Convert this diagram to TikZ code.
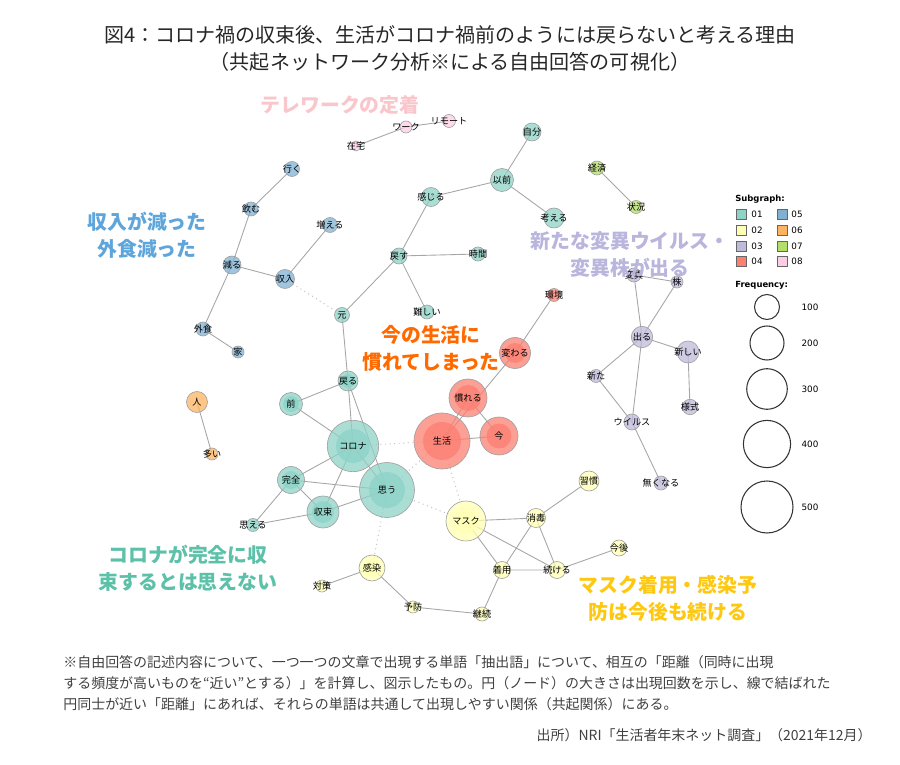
\documentclass[tikz,border=0pt]{standalone}
\usepackage{fontspec}
\setmainfont{Noto Sans CJK JP}
\newfontfamily\legfont{DejaVu Sans}
\usetikzlibrary{backgrounds}
\definecolor{c01}{HTML}{8DD3C7}
\definecolor{c02}{HTML}{FFFFB3}
\definecolor{c03}{HTML}{BEBADA}
\definecolor{c04}{HTML}{FB8072}
\definecolor{c05}{HTML}{80B1D3}
\definecolor{c06}{HTML}{FDB462}
\definecolor{c07}{HTML}{B3DE69}
\definecolor{c08}{HTML}{FCCDE5}
\definecolor{apink}{HTML}{F9C6CC}
\definecolor{ablue}{HTML}{5DA5DA}
\definecolor{apurple}{HTML}{B9B5DC}
\definecolor{aorange}{HTML}{FF6A00}
\definecolor{ateal}{HTML}{5DC1A9}
\definecolor{ayellow}{HTML}{FFC810}
\tikzset{
  word/.style={circle, draw=gray!75, line width=0.35pt, fill opacity=0.75, inner sep=0pt},
  sz/.style={minimum size=#1*0.4mm},
  core/.style 2 args={path picture={\fill[#1, fill opacity=0.8] (path picture bounding box.center) circle ({#2*0.2mm});}},
  every label/.style={font=\fontsize{5.2}{5.6}\selectfont, text opacity=1, fill opacity=1, inner sep=0pt},
  edge/.style={draw=gray!70, line width=0.5pt},
  weak/.style={draw=gray!45, line width=0.6pt, dotted},
  ann/.style={font=\fontsize{11.3}{15.3}\selectfont\bfseries, align=center},
  note/.style={font=\fontsize{7.95}{11.9}\selectfont, align=left, text=black!75, inner sep=0pt},
  sq/.style={draw=black!60, line width=0.4pt, minimum size=2mm, inner sep=0pt},
  legtxt/.style={font=\legfont\fontsize{5}{6}\selectfont, inner sep=0pt},
  fc/.style={circle, draw=black!80, line width=0.6pt, inner sep=0pt}
}
\begin{document}
\begin{tikzpicture}[x=0.2mm, y=-0.2mm]
\useasboundingbox (0,0) rectangle (900,765);
\node[font=\fontsize{11.4}{15.3}\selectfont, align=center, text=black!85] (title) at (450,48.5) {図4：コロナ禍の収束後、生活がコロナ禍前のようには戻らないと考える理由\\（共起ネットワーク分析※による自由回答の可視化）};

\node[word, sz=5, fill=c08, label=center:在宅] (zaitaku) at (356,146) {};
\node[word, sz=6, fill=c08, label=center:ワーク] (waaku) at (406,127) {};
\node[word, sz=6.5, fill=c08, label=center:リモート] (rimoto) at (449,121) {};

\node[word, sz=7.5, fill=c05, label=center:行く] (iku) at (292,169) {};
\node[word, sz=7, fill=c05, label=center:飲む] (nomu) at (251,209) {};
\node[word, sz=7.5, fill=c05, label=center:増える] (fueru) at (330,225) {};
\node[word, sz=9, fill=c05, label=center:減る] (heru) at (232,265) {};
\node[word, sz=9.5, fill=c05, label=center:収入] (shunyu) at (285,279) {};
\node[word, sz=7, fill=c05, label=center:外食] (gaishoku) at (203,329) {};
\node[word, sz=6, fill=c05, label=center:家] (ie) at (238,352) {};

\node[word, sz=9, fill=c01, label=center:自分] (jibun) at (532,132) {};
\node[word, sz=11.5, fill=c01, label=center:以前] (izen) at (502,180) {};
\node[word, sz=9.5, fill=c01, label=center:感じる] (kanjiru) at (431,197) {};
\node[word, sz=10, fill=c01, label=center:考える] (kangaeru) at (554,218) {};
\node[word, sz=8, fill=c01, label=center:戻す] (modosu) at (399,256) {};
\node[word, sz=7, fill=c01, label=center:時間] (jikan) at (478,254) {};
\node[word, sz=7, fill=c01, label=center:難しい] (muzukashii) at (427,312) {};
\node[word, sz=7.5, fill=c01, label=center:元] (moto) at (342,315) {};
\node[word, sz=10, fill=c01, core={c01}{7}, label=center:戻る] (modoru) at (348,381) {};
\node[word, sz=11.5, fill=c01, core={c01}{8}, label=center:前] (mae) at (291,404) {};
\node[word, sz=25.7, fill=c01, core={c01}{17}, label=center:コロナ] (korona) at (353,446) {};
\node[word, sz=13.5, fill=c01, core={c01}{9}, label=center:完全] (kanzen) at (291,480) {};
\node[word, sz=16, fill=c01, core={c01}{11}, label=center:収束] (shusoku) at (323,512) {};
\node[word, sz=27.5, fill=c01, core={c01}{18}, label=center:思う] (omou) at (387,490) {};
\node[word, sz=6.5, fill=c01, label=center:思える] (omoeru) at (253,525) {};

\node[word, sz=6.5, fill=c04, label=center:環境] (kankyo) at (554,295) {};
\node[word, sz=15.5, fill=c04, core={c04}{10}, label=center:変わる] (kawaru) at (515,353) {};
\node[word, sz=19, fill=c04, core={c04}{13}, label=center:慣れる] (nareru) at (468,398) {};
\node[word, sz=28, fill=c04, core={c04}{19}, label=center:生活] (seikatsu) at (442,441) {};
\node[word, sz=19, fill=c04, core={c04}{12.5}, label=center:今] (ima) at (499,436) {};

\node[word, sz=10.5, fill=c06, label=center:人] (hito) at (197,402) {};
\node[word, sz=6, fill=c06, label=center:多い] (ooi) at (212,454) {};

\node[word, sz=7, fill=c07, label=center:経済] (keizai) at (597,168) {};
\node[word, sz=6.5, fill=c07, label=center:状況] (jokyo) at (636,207) {};

\node[word, sz=7, fill=c03, label=center:変異] (heni) at (634,275) {};
\node[word, sz=6, fill=c03, label=center:株] (kabu) at (677,282) {};
\node[word, sz=10.7, fill=c03, label=center:出る] (deru) at (642,337) {};
\node[word, sz=11, fill=c03, label=center:新しい] (atarashii) at (688,352) {};
\node[word, sz=6.5, fill=c03, label=center:新た] (aratana) at (596,376) {};
\node[word, sz=7.7, fill=c03, label=center:様式] (yoshiki) at (690,407) {};
\node[word, sz=8, fill=c03, label=center:ウイルス] (virus) at (632,422) {};
\node[word, sz=7, fill=c03, label=center:無くなる] (nakunaru) at (661,483) {};

\node[word, sz=10, fill=c02, label=center:習慣] (shukan) at (589,481) {};
\node[word, sz=9.5, fill=c02, label=center:消毒] (shodoku) at (536,518) {};
\node[word, sz=20, fill=c02, core={c02}{13}, label=center:マスク] (mask) at (466,521) {};
\node[word, sz=8, fill=c02, label=center:今後] (kongo) at (619,548) {};
\node[word, sz=8.5, fill=c02, label=center:着用] (chakuyo) at (502,570) {};
\node[word, sz=8.5, fill=c02, label=center:続ける] (tsuzukeru) at (557,570) {};
\node[word, sz=13, fill=c02, core={c02}{8.5}, label=center:感染] (kansen) at (372,568) {};
\node[word, sz=6, fill=c02, label=center:対策] (taisaku) at (322,586) {};
\node[word, sz=6, fill=c02, label=center:予防] (yobo) at (413,607) {};
\node[word, sz=7, fill=c02, label=center:継続] (keizoku) at (482,614) {};

\begin{pgfonlayer}{background}
\draw[edge] (zaitaku.center) -- (waaku.center) -- (rimoto.center);
\draw[edge] (iku.center) -- (nomu.center) -- (heru.center) -- (shunyu.center) -- (fueru.center);
\draw[edge] (heru.center) -- (gaishoku.center) -- (ie.center);
\draw[weak] (shunyu.center) -- (moto.center);
\draw[edge] (jibun.center) -- (izen.center) -- (kanjiru.center) -- (modosu.center) -- (jikan.center);
\draw[edge] (izen.center) -- (kangaeru.center);
\draw[edge] (modosu.center) -- (muzukashii.center);
\draw[edge] (modosu.center) -- (moto.center) -- (modoru.center) -- (mae.center) -- (korona.center);
\draw[edge] (modoru.center) -- (korona.center);
\draw[edge] (modoru.center) -- (omou.center);
\draw[edge] (korona.center) -- (kanzen.center) -- (omou.center);
\draw[edge] (korona.center) -- (shusoku.center) -- (omou.center) -- (korona.center);
\draw[edge] (kanzen.center) -- (shusoku.center) -- (omoeru.center) -- (kanzen.center);
\draw[weak] (korona.center) -- (seikatsu.center) -- (omou.center) -- (mask.center) -- (seikatsu.center);
\draw[weak] (omou.center) -- (kansen.center);
\draw[edge] (kankyo.center) -- (kawaru.center) -- (seikatsu.center) -- (nareru.center) -- (ima.center) -- (seikatsu.center);
\draw[edge] (hito.center) -- (ooi.center);
\draw[edge] (keizai.center) -- (jokyo.center);
\draw[edge] (heni.center) -- (kabu.center) -- (deru.center) -- (heni.center);
\draw[edge] (aratana.center) -- (deru.center) -- (atarashii.center) -- (yoshiki.center);
\draw[edge] (deru.center) -- (virus.center) -- (aratana.center);
\draw[edge] (virus.center) -- (nakunaru.center);
\draw[edge] (shukan.center) -- (shodoku.center) -- (mask.center) -- (chakuyo.center) -- (shodoku.center) -- (tsuzukeru.center) -- (mask.center);
\draw[edge] (chakuyo.center) -- (tsuzukeru.center) -- (kongo.center);
\draw[edge] (chakuyo.center) -- (keizoku.center) -- (yobo.center) -- (kansen.center) -- (taisaku.center);
\end{pgfonlayer}

\node[ann, text=apink] (atele) at (340,105) {テレワークの定着};
\node[ann, text=ablue] (aincome) at (147,235.5) {収入が減った\\外食減った};
\node[ann, text=apurple] (avariant) at (630,254.5) {新たな変異ウイルス・\\変異株が出る};
\node[ann, text=aorange] (anareta) at (431,348) {今の生活に\\慣れてしまった};
\node[ann, text=ateal] (akorona) at (188,568.5) {コロナが完全に収\\束するとは思えない};
\node[ann, text=ayellow] (amask) at (668,598.5) {マスク着用・感染予\\防は今後も続ける};

\node[legtxt, font=\legfont\bfseries\fontsize{4.8}{6}\selectfont, anchor=west] (sub) at (735,199) {Subgraph:};
\node[sq, fill=c01] (s01) at (741,214) {};
\node[sq, fill=c02] (s02) at (741,230) {};
\node[sq, fill=c03] (s03) at (741,246) {};
\node[sq, fill=c04] (s04) at (741,261) {};
\node[sq, fill=c05] (s05) at (782,214) {};
\node[sq, fill=c06] (s06) at (782,230) {};
\node[sq, fill=c07] (s07) at (782,246) {};
\node[sq, fill=c08] (s08) at (782,261) {};
\node[legtxt] (t01) at (757,214) {01};
\node[legtxt] (t02) at (757,230) {02};
\node[legtxt] (t03) at (757,246) {03};
\node[legtxt] (t04) at (757,261) {04};
\node[legtxt] (t05) at (797,214) {05};
\node[legtxt] (t06) at (797,230) {06};
\node[legtxt] (t07) at (797,246) {07};
\node[legtxt] (t08) at (797,261) {08};
\node[legtxt, font=\legfont\bfseries\fontsize{4.8}{6}\selectfont, anchor=west] (freq) at (735,285) {Frequency:};
\node[fc, sz=12.5] (f100) at (767,307) {};
\node[fc, sz=17] (f200) at (767,343) {};
\node[fc, sz=20.3] (f300) at (767,389) {};
\node[fc, sz=23.6] (f400) at (767,444) {};
\node[fc, sz=26] (f500) at (767,507) {};
\node[legtxt] (n100) at (810,307) {100};
\node[legtxt] (n200) at (810,343) {200};
\node[legtxt] (n300) at (810,389) {300};
\node[legtxt] (n400) at (810,444) {400};
\node[legtxt] (n500) at (810,507) {500};

\node[note, anchor=west] (note) at (63,683) {※自由回答の記述内容について、一つ一つの文章で出現する単語「抽出語」について、相互の「距離（同時に出現\\する頻度が高いものを“近い”とする）」を計算し、図示したもの。円（ノード）の大きさは出現回数を示し、線で結ばれた\\円同士が近い「距離」にあれば、それらの単語は共通して出現しやすい関係（共起関係）にある。};
\node[note, anchor=east] (src) at (872,735) {出所）NRI「生活者年末ネット調査」（2021年12月）};
\end{tikzpicture}
\end{document}
